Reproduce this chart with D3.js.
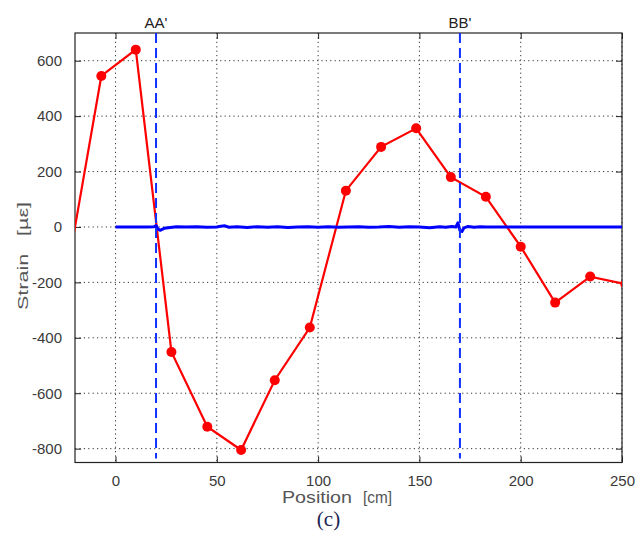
<!DOCTYPE html>
<html><head><meta charset="utf-8">
<script src="https://cdn.jsdelivr.net/npm/d3@7"></script>
<style>
html,body{margin:0;padding:0;background:#fff;}
</style></head>
<body>
<svg id="c" width="638" height="546" font-family="'Liberation Sans',Arial,sans-serif"></svg>
<script>
// ---- data ----
const redX = [-24.3, -7, 10, 27.6, 45.3, 62, 78.6, 95.9, 113.7, 131.1, 148.4, 165.5, 182.8, 200, 217, 234.3, 251.6];
const redY = [-180, 545, 640, -451, -721, -805, -553, -363, 131, 289, 356, 180, 109, -71, -273, -179, -206];
const blueX = [0,4,8,12,16,19,20,21,22,24,27,30,35,40,45,50,52,54,56,60,65,70,75,80,85,90,95,100,105,110,115,120,125,130,135,140,145,150,155,160,163,166,168,169,170,171,172,174,177,180,183,186,250];
const blueY = [0,0,0,0,0,1,5,-8,-12,-5,-2,1,0,1,-1,0,3,4,-1,1,-2,1,-1,1,-2,0,1,-1,1,-1,0,1,-1,0,2,-1,1,0,-3,1,-1,2,0,15,-12,-16,-3,2,-1,1,0,0,0];
const markerX = [20, 170];
const markerLabels = ["AA'", "BB'"];
const xTicks = [0, 50, 100, 150, 200, 250];
const yTicks = [-800, -600, -400, -200, 0, 200, 400, 600];

const svg = d3.select("#c");
const FONT = "'Liberation Sans',Arial,sans-serif";
const L = 75, R = 622, T = 33, B = 462.5;
const x = d3.scaleLinear().domain([-20, 250]).range([L, R]);
const y = d3.scaleLinear().domain([-850, 700]).range([B, T]);
const fmt = d => String(d);

svg.append("defs").append("clipPath").attr("id","clip")
  .append("rect").attr("x",L).attr("y",T).attr("width",R-L).attr("height",B-T);

// grid
const g = svg.append("g");
g.selectAll(".gx").data(xTicks).join("line")
  .attr("x1",d=>x(d)).attr("x2",d=>x(d)).attr("y1",T).attr("y2",B)
  .attr("stroke","#333").attr("stroke-width",1).attr("stroke-dasharray","1.2,3.2");
g.selectAll(".gy").data(yTicks).join("line")
  .attr("y1",d=>y(d)).attr("y2",d=>y(d)).attr("x1",L).attr("x2",R)
  .attr("stroke","#333").attr("stroke-width",1).attr("stroke-dasharray","1.2,3.2");

// axes (ticks inside, on all four sides)
const xb = d3.axisBottom(x).tickValues(xTicks).tickSizeInner(-6).tickSizeOuter(0).tickPadding(13).tickFormat(fmt);
const xt = d3.axisTop(x).tickValues(xTicks).tickSizeInner(-6).tickSizeOuter(0).tickFormat("");
const yl = d3.axisLeft(y).tickValues(yTicks).tickSizeInner(-6).tickSizeOuter(0).tickPadding(13).tickFormat(fmt);
const yr = d3.axisRight(y).tickValues(yTicks).tickSizeInner(-6).tickSizeOuter(0).tickFormat("");
[[xb,`translate(0,${B})`],[xt,`translate(0,${T})`],[yl,`translate(${L},0)`],[yr,`translate(${R},0)`]].forEach(([a,t])=>{
  const gg = svg.append("g").attr("transform",t).call(a);
  gg.attr("font-family",FONT).attr("font-size",15);
  gg.select(".domain").remove();
  gg.selectAll("line").attr("stroke","#222");
  gg.selectAll("text").attr("fill","#3a3a3a");
});
svg.append("rect").attr("x",L).attr("y",T).attr("width",R-L).attr("height",B-T)
  .attr("fill","none").attr("stroke","#222").attr("stroke-width",1.2);

// red series
const pts = redX.map((d,i)=>[d, redY[i]]);
const cg = svg.append("g").attr("clip-path","url(#clip)");
cg.append("path").datum(pts)
  .attr("d", d3.line().x(d=>x(d[0])).y(d=>y(d[1])))
  .attr("fill","none").attr("stroke","#ff0000").attr("stroke-width",2.2);
cg.selectAll("circle").data(pts).join("circle")
  .attr("cx",d=>x(d[0])).attr("cy",d=>y(d[1])).attr("r",5).attr("fill","#ff0000");

// blue series
const bpts = blueX.map((d,i)=>[d, blueY[i]]);
cg.append("path").datum(bpts)
  .attr("d", d3.line().x(d=>x(d[0])).y(d=>y(d[1])))
  .attr("fill","none").attr("stroke","#0000ff").attr("stroke-width",3).attr("stroke-linejoin","round");

// vertical dashed markers
svg.selectAll(".vm").data(markerX).join("line")
  .attr("x1",d=>x(d)).attr("x2",d=>x(d)).attr("y1",T).attr("y2",B-4)
  .attr("stroke","#1030ff").attr("stroke-width",2).attr("stroke-dasharray","10,5");
svg.selectAll(".vl").data(markerX).join("text")
  .attr("x",d=>x(d)).attr("y",28).attr("text-anchor","middle")
  .attr("font-size",15).attr("fill","#222").text((d,i)=>markerLabels[i]);

// axis titles
svg.append("text").attr("x",282).attr("y",503).attr("font-size",16).attr("fill","#555")
  .attr("textLength",70).attr("lengthAdjust","spacingAndGlyphs").text("Position");
svg.append("text").attr("x",363).attr("y",503).attr("font-size",17).attr("fill","#555")
  .attr("textLength",29).attr("lengthAdjust","spacingAndGlyphs").text("[cm]");
svg.append("text").attr("transform","translate(28,256) rotate(-90)").attr("text-anchor","middle")
  .attr("font-size",15).attr("fill","#555").attr("textLength",108).attr("lengthAdjust","spacingAndGlyphs")
  .text("Strain\u00a0\u00a0\u00a0[\u00b5\u03b5]");
svg.append("text").attr("x",328.5).attr("y",526).attr("text-anchor","middle")
  .attr("font-size",21).attr("fill","#1c2452")
  .attr("font-family","'Liberation Serif','Times New Roman',serif").text("(c)");
</script>
</body></html>
